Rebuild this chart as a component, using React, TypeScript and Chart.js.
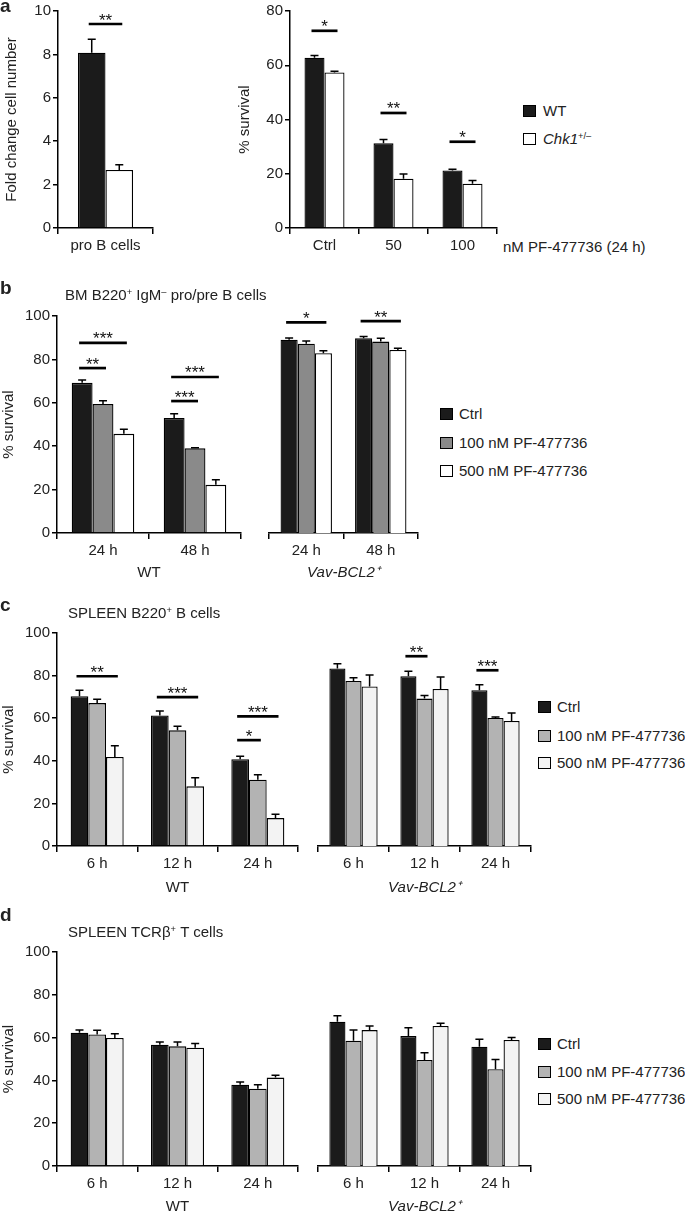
import React, { useEffect, useRef } from 'react';
import { Chart, registerables } from 'chart.js';

Chart.register(...registerables);

const FONT = '"Liberation Sans", Arial, Helvetica, sans-serif';

// ---------- Panel a ----------
const aProCategories = ['pro B cells'];
const aProWT = [8.08];
const aProWTErr = [0.62];
const aProChk1 = [2.67];
const aProChk1Err = [0.25];

const aDoseCategories = ['Ctrl', '50', '100'];
const aDoseWT = [62.8, 31.2, 21.2];
const aDoseWTErr = [0.8, 1.4, 0.5];
const aDoseChk1 = [57.3, 18.2, 16.3];
const aDoseChk1Err = [0.5, 1.7, 1.2];

// ---------- Panel b (BM B220+ IgM- pro/pre B cells) ----------
const bTimes = ['24 h', '48 h'];
const bWTCtrl = [69.2, 53.0];
const bWTCtrlErr = [1.3, 2.0];
const bWT100 = [59.4, 39.0];
const bWT100Err = [1.5, 0.3];
const bWT500 = [45.7, 22.2];
const bWT500Err = [2.1, 2.3];
const bVavCtrl = [89.1, 89.7];
const bVavCtrlErr = [0.8, 0.8];
const bVav100 = [87.2, 88.2];
const bVav100Err = [1.3, 1.5];
const bVav500 = [82.8, 84.3];
const bVav500Err = [1.2, 0.8];

// ---------- Panel c (SPLEEN B220+ B cells) ----------
const cTimes = ['6 h', '12 h', '24 h'];
const cWTCtrl = [70.3, 61.3, 40.7];
const cWTCtrlErr = [2.8, 2.1, 1.4];
const cWT100 = [67.1, 54.3, 31.1];
const cWT100Err = [1.8, 1.9, 2.4];
const cWT500 = [41.8, 28.0, 13.1];
const cWT500Err = [5.3, 4.1, 1.8];
const cVavCtrl = [83.3, 79.7, 73.1];
const cVavCtrlErr = [2.3, 2.3, 2.6];
const cVav100 = [77.5, 69.2, 60.1];
const cVav100Err = [1.5, 1.5, 0.5];
const cVav500 = [74.9, 73.7, 58.7];
const cVav500Err = [5.4, 5.6, 3.7];

// ---------- Panel d (SPLEEN TCRb+ T cells) ----------
const dTimes = ['6 h', '12 h', '24 h'];
const dWTCtrl = [62.3, 56.7, 38.0];
const dWTCtrlErr = [1.3, 1.2, 1.3];
const dWT100 = [61.5, 55.9, 36.1];
const dWT100Err = [1.9, 2.0, 1.9];
const dWT500 = [59.8, 55.3, 41.3];
const dWT500Err = [2.0, 1.9, 1.1];
const dVavCtrl = [67.4, 60.7, 55.7];
const dVavCtrlErr = [2.8, 3.9, 3.5];
const dVav100 = [58.5, 49.5, 45.2];
const dVav100Err = [5.0, 3.4, 4.6];
const dVav500 = [63.5, 65.4, 58.9];
const dVav500Err = [1.9, 1.3, 1.1];

// significance annotations: [category index, from series, to series, height (data units), label]
const aProSig = [[0, 0, 1, 9.4, '**']];
const aDoseSig = [[0, 0, 1, 72.7, '*'], [1, 0, 1, 42.4, '**'], [2, 0, 1, 31.8, '*']];
const bWTSig = [[0, 0, 2, 87.6, '***'], [0, 0, 1, 76.0, '**'], [1, 0, 2, 71.9, '***'], [1, 0, 1, 60.8, '***']];
const bVavSig = [[0, 0, 2, 97.1, '*'], [1, 0, 2, 97.6, '**']];
const cWTSig = [[0, 0, 2, 79.7, '**'], [1, 0, 2, 69.9, '***'], [2, 0, 2, 60.9, '***'], [2, 0, 1, 49.7, '*']];
const cVavSig = [[1, 0, 1, 89.1, '**'], [2, 0, 1, 82.5, '***']];
const dWTSig: any[] = [];
const dVavSig: any[] = [];

const treatLabels = ['Ctrl', '100 nM PF-477736', '500 nM PF-477736'];
const genoLabels = ['WT', 'Chk1+/–'];

// ---------- styling ----------
const BLACK = '#1b1b1b';
const GREY_B = '#8a8a8a';
const GREY_CD = '#b3b3b3';
const WHITE = '#ffffff';
const LIGHT = '#f3f3f3';

type Series = { label: string; data: number[]; err: number[]; color: string };
type Spec = {
  box: [number, number, number, number];
  area: [number, number, number, number];
  categories: string[];
  series: Series[];
  sig: any[];
  yMax: number;
  yStep: number;
  showY: boolean;
  yTitle?: string;
  yTitlePad?: number;
  xTitle?: string;
  xItalic?: boolean;
  catPct: number;
};

function makeAnnotPlugin(spec: Spec) {
  return {
    id: 'annot',
    afterDatasetsDraw(chart: any) {
      const ctx = chart.ctx;
      const y = chart.scales.y;
      ctx.save();
      ctx.strokeStyle = '#000';
      ctx.fillStyle = '#111';
      spec.series.forEach((s, di) => {
        const meta = chart.getDatasetMeta(di);
        meta.data.forEach((el: any, i: number) => {
          const top = y.getPixelForValue(s.data[i] + s.err[i]);
          ctx.lineWidth = 1.5;
          ctx.beginPath();
          ctx.moveTo(el.x, el.y);
          ctx.lineTo(el.x, top);
          ctx.moveTo(el.x - 4, top);
          ctx.lineTo(el.x + 4, top);
          ctx.stroke();
        });
      });
      spec.sig.forEach((sg: any) => {
        const [cat, from, to, val, label] = sg;
        const a = chart.getDatasetMeta(from).data[cat];
        const b = chart.getDatasetMeta(to).data[cat];
        const py = y.getPixelForValue(val);
        ctx.lineWidth = 2.7;
        ctx.beginPath();
        ctx.moveTo(a.x - 3, py);
        ctx.lineTo(b.x + 3, py);
        ctx.stroke();
        ctx.font = `17px ${FONT}`;
        ctx.textAlign = 'center';
        ctx.textBaseline = 'alphabetic';
        ctx.fillText(label, (a.x + b.x) / 2, py + 1.5);
      });
      ctx.restore();
    },
  };
}

function BarPanel({ spec }: { spec: Spec }) {
  const ref = useRef<HTMLCanvasElement | null>(null);
  useEffect(() => {
    if (!ref.current) return;
    const [bx, by, bw, bh] = spec.box;
    const [l, t, r, b] = spec.area;
    const yWidth = l - bx;
    const xHeight = by + bh - b;
    const chart = new Chart(ref.current, {
      type: 'bar',
      data: {
        labels: spec.categories,
        datasets: spec.series.map((s) => ({
          label: s.label,
          data: s.data,
          backgroundColor: s.color,
          borderColor: '#000',
          borderWidth: 1.3,
          borderSkipped: 'start',
          categoryPercentage: spec.catPct,
          barPercentage: 1,
        })),
      },
      options: {
        responsive: false,
        animation: false,
        devicePixelRatio: 1,
        layout: {
          padding: {
            left: spec.showY ? 0 : l - bx,
            top: t - by,
            right: bx + bw - r,
            bottom: 0,
          },
        },
        plugins: { legend: { display: false }, tooltip: { enabled: false } },
        scales: {
          x: {
            type: 'category',
            offset: true,
            ticks: { font: { size: 15, family: FONT }, color: '#222', padding: 3, maxRotation: 0, autoSkip: false },
            grid: { offset: true, drawOnChartArea: false, drawTicks: true, tickLength: 6, color: '#000', lineWidth: 1.5 },
            border: { display: true, color: '#000', width: 1.5 },
            title: {
              display: !!spec.xTitle,
              text: spec.xTitle || '',
              color: '#222',
              font: { size: 15, family: FONT, style: spec.xItalic ? 'italic' : 'normal', lineHeight: 1 },
              padding: { top: 0, bottom: 0 },
            },
            afterFit: (s: any) => {
              s.height = xHeight;
            },
          },
          y: {
            display: spec.showY,
            min: 0,
            max: spec.yMax,
            ticks: { stepSize: spec.yStep, font: { size: 15, family: FONT }, color: '#222', padding: 2 },
            grid: { drawOnChartArea: false, drawTicks: true, tickLength: 5, color: '#000', lineWidth: 1.5 },
            border: { display: true, color: '#000', width: 1.5 },
            title: {
              display: !!spec.yTitle,
              text: spec.yTitle || '',
              color: '#222',
              font: { size: 15, family: FONT, lineHeight: 1.2 },
              padding: { top: spec.yTitlePad || 0, bottom: 0 },
            },
            afterFit: (s: any) => {
              s.width = yWidth;
            },
          },
        },
      },
      plugins: [makeAnnotPlugin(spec)],
    } as any);
    return () => chart.destroy();
  }, [spec]);
  const [bx, by, bw, bh] = spec.box;
  return (
    <canvas
      ref={ref}
      width={bw}
      height={bh}
      style={{ position: 'absolute', left: bx, top: by, width: bw, height: bh }}
    />
  );
}

const sup = (s: string) => (
  <sup style={{ fontSize: '0.62em', verticalAlign: '0.55em', lineHeight: 0 }}>{s}</sup>
);

function Txt({ x, y, size = 15, bold = false, italic = false, children }: any) {
  return (
    <div
      style={{
        position: 'absolute',
        left: x,
        top: y - size * 0.6,
        fontSize: size,
        lineHeight: `${size * 1.2}px`,
        whiteSpace: 'nowrap',
        fontFamily: FONT,
        color: '#222',
        fontWeight: bold ? 'bold' : 'normal',
        fontStyle: italic ? 'italic' : 'normal',
      }}
    >
      {children}
    </div>
  );
}

function Swatch({ x, y, color }: { x: number; y: number; color: string }) {
  return (
    <div
      style={{
        position: 'absolute',
        left: x,
        top: y - 6,
        width: 13,
        height: 12,
        boxSizing: 'border-box',
        border: '1.3px solid #000',
        background: color,
      }}
    />
  );
}

function Legend3({ x, ys, colors }: { x: number; ys: number[]; colors: string[] }) {
  return (
    <>
      {treatLabels.map((lab, i) => (
        <React.Fragment key={lab}>
          <Swatch x={x} y={ys[i]} color={colors[i]} />
          <Txt x={x + 19} y={ys[i]}>{lab}</Txt>
        </React.Fragment>
      ))}
    </>
  );
}

const specs: Spec[] = [
  {
    box: [0, 0, 160, 258], area: [58, 11, 153, 228], categories: aProCategories,
    series: [
      { label: genoLabels[0], data: aProWT, err: aProWTErr, color: BLACK },
      { label: genoLabels[1], data: aProChk1, err: aProChk1Err, color: WHITE },
    ],
    sig: aProSig, yMax: 10, yStep: 2, showY: true, yTitle: 'Fold change cell number', yTitlePad: 3, catPct: 0.58,
  },
  {
    box: [233, 0, 270, 258], area: [290, 11, 497, 228], categories: aDoseCategories,
    series: [
      { label: genoLabels[0], data: aDoseWT, err: aDoseWTErr, color: BLACK },
      { label: genoLabels[1], data: aDoseChk1, err: aDoseChk1Err, color: WHITE },
    ],
    sig: aDoseSig, yMax: 80, yStep: 20, showY: true, yTitle: '% survival', yTitlePad: 3, catPct: 0.58,
  },
  {
    box: [0, 296, 245, 284], area: [57, 316, 241, 533], categories: bTimes,
    series: [
      { label: treatLabels[0], data: bWTCtrl, err: bWTCtrlErr, color: BLACK },
      { label: treatLabels[1], data: bWT100, err: bWT100Err, color: GREY_B },
      { label: treatLabels[2], data: bWT500, err: bWT500Err, color: WHITE },
    ],
    sig: bWTSig, yMax: 100, yStep: 20, showY: true, yTitle: '% survival', xTitle: 'WT', catPct: 0.68,
  },
  {
    box: [245, 296, 180, 284], area: [257, 316, 418, 533], categories: bTimes,
    series: [
      { label: treatLabels[0], data: bVavCtrl, err: bVavCtrlErr, color: BLACK },
      { label: treatLabels[1], data: bVav100, err: bVav100Err, color: GREY_B },
      { label: treatLabels[2], data: bVav500, err: bVav500Err, color: WHITE },
    ],
    sig: bVavSig, yMax: 100, yStep: 20, showY: false, xTitle: 'Vav-BCL2⁺', xItalic: true, catPct: 0.69,
  },
  {
    box: [0, 613, 304, 282], area: [57, 633, 298, 846], categories: cTimes,
    series: [
      { label: treatLabels[0], data: cWTCtrl, err: cWTCtrlErr, color: BLACK },
      { label: treatLabels[1], data: cWT100, err: cWT100Err, color: GREY_CD },
      { label: treatLabels[2], data: cWT500, err: cWT500Err, color: LIGHT },
    ],
    sig: cWTSig, yMax: 100, yStep: 20, showY: true, yTitle: '% survival', xTitle: 'WT', catPct: 0.66,
  },
  {
    box: [304, 613, 232, 282], area: [311, 633, 531, 846], categories: cTimes,
    series: [
      { label: treatLabels[0], data: cVavCtrl, err: cVavCtrlErr, color: BLACK },
      { label: treatLabels[1], data: cVav100, err: cVav100Err, color: GREY_CD },
      { label: treatLabels[2], data: cVav500, err: cVav500Err, color: LIGHT },
    ],
    sig: cVavSig, yMax: 100, yStep: 20, showY: false, xTitle: 'Vav-BCL2⁺', xItalic: true, catPct: 0.68,
  },
  {
    box: [0, 932, 304, 282], area: [57, 952, 298, 1166], categories: dTimes,
    series: [
      { label: treatLabels[0], data: dWTCtrl, err: dWTCtrlErr, color: BLACK },
      { label: treatLabels[1], data: dWT100, err: dWT100Err, color: GREY_CD },
      { label: treatLabels[2], data: dWT500, err: dWT500Err, color: LIGHT },
    ],
    sig: dWTSig, yMax: 100, yStep: 20, showY: true, yTitle: '% survival', xTitle: 'WT', catPct: 0.66,
  },
  {
    box: [304, 932, 232, 282], area: [311, 952, 531, 1166], categories: dTimes,
    series: [
      { label: treatLabels[0], data: dVavCtrl, err: dVavCtrlErr, color: BLACK },
      { label: treatLabels[1], data: dVav100, err: dVav100Err, color: GREY_CD },
      { label: treatLabels[2], data: dVav500, err: dVav500Err, color: LIGHT },
    ],
    sig: dVavSig, yMax: 100, yStep: 20, showY: false, xTitle: 'Vav-BCL2⁺', xItalic: true, catPct: 0.68,
  },
];

export default function App() {
  return (
    <div
      style={{
        position: 'absolute',
        left: 0,
        top: 0,
        width: 685,
        height: 1214,
        overflow: 'hidden',
        background: '#fff',
        fontFamily: FONT,
      }}
    >
      {specs.map((s, i) => (
        <BarPanel key={i} spec={s} />
      ))}

      {/* panel letters */}
      <Txt x={0} y={6} size={19} bold>a</Txt>
      <Txt x={0} y={288} size={19} bold>b</Txt>
      <Txt x={0} y={605} size={19} bold>c</Txt>
      <Txt x={0} y={915} size={19} bold>d</Txt>

      {/* panel a extras */}
      <Txt x={503} y={247}>nM PF-477736 (24 h)</Txt>
      <Swatch x={523} y={111} color={BLACK} />
      <Txt x={543} y={111}>WT</Txt>
      <Swatch x={523} y={139} color={WHITE} />
      <Txt x={543} y={139}>
        <i>Chk1</i>
        {sup('+/–')}
      </Txt>

      {/* panel titles */}
      <Txt x={65} y={295}>
        BM B220{sup('+')} IgM{sup('–')} pro/pre B cells
      </Txt>
      <Txt x={68} y={613}>
        SPLEEN B220{sup('+')} B cells
      </Txt>
      <Txt x={68} y={932}>
        SPLEEN TCRβ{sup('+')} T cells
      </Txt>

      {/* legends */}
      <Legend3 x={440} ys={[414, 443, 471]} colors={[BLACK, GREY_B, WHITE]} />
      <Legend3 x={538} ys={[707, 736, 763]} colors={[BLACK, GREY_CD, LIGHT]} />
      <Legend3 x={538} ys={[1044, 1072, 1099]} colors={[BLACK, GREY_CD, LIGHT]} />
    </div>
  );
}
